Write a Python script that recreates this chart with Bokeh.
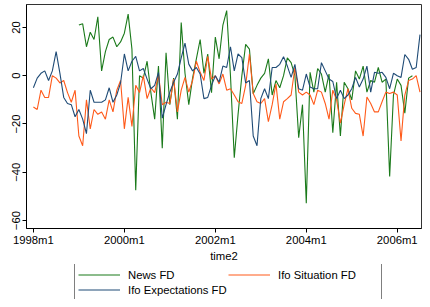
import numpy as np
from bokeh.plotting import figure
from bokeh.layouts import column
from bokeh.models import ColumnDataSource, Legend, LegendItem, FixedTicker, Range1d
from bokeh.embed import file_html
from bokeh.resources import INLINE

nan = np.nan

# monthly index 1998m1 .. 2006m7
months = [f"{1998 + k // 12}m{k % 12 + 1}" for k in range(103)]

news_fd = [nan] * 12 + [
    21, 21.5, 12, 18, 15, 24.4, 2, 10, 15, 16, 12, 14,
    17.6, 25.5, 11, -47.4, 0, -1, 6, -7, -18, 4, -30, 9.5,
    -12, -1, -18, 22, 1, -12, -1, 7, 15, 1, 9, -7,
    16, 7, 21, 27, 0, -34, -16, 0, 13, 11, -7.5, -4,
    -1, 1, 7, -8, -2, -5, 0, 7.4, 5.4, 0, -25.7, -12,
    -52.8, 1.4, -6.8, 3, 0.7, -6.8, 0.7, -23.6, -2.7, -25, -2.7, -5.4,
    -10, 2, -1.4, 4, -6.8, -2, -2.7, 3.4, -2.7, -1.4, -41.7, -8,
    -1.4, -4, -15.5, -1, 0,
] + [nan] * 2

ifo_situation_fd = [
    -13, -14, -6, -9, -9, 0, -1, -3, -2, -7, -11, -6,
    -25, -29, -10, -22, -14, -16, -15, -18, -10, -15, -6, -2,
    -22, -9, -21, -4, -7, 0, -9.5, -5, -7, 0.5, -12, -11,
    -11.5, -1.4, -15, -6, -0.7, -6.8, -2, 6, 1.4, -2, 8, -1.4,
    0, -3.4, 0.7, -6, -5.4, -8, -10.8, -11.5, -4, 9, -7.4, -10.8,
    -11.5, -9.5, -19, -12, -3.4, -18, -10.8, -9.5, -8, 3.4, -6.8, -8,
    -6.8, -8, -12, -6, -6.8, -11.5, -18, -6, -10, -19.6, -12, -5.4,
    -13.5, -15.6, -16, -25, -8.8, -11.5, -15, -15, -10.8, -6.8, -7.4, -6.8,
    -8, -27, -8, -2, -1.4, 0, -6.8,
]

ifo_expectations_fd = [
    -5, -1, 1, 2, -2, 2, 10, 1, -9, -11.5, -12, -17,
    -14, -18, -24, -6, -11, -11, -11, -10, -5, -11, -8, -3,
    9, 2, 6, 8, 2, 3, -1.4, -5.4, -4, 1.4, -17.6, -12,
    -6.8, -2.7, 0.7, 7.4, 13.5, 4.8, 2, 3.4, 0.7, -9.5, -9, -4,
    0, -2.7, 4, 3.4, 12, 2, 9, 7.5, -3, -2, -25, -29,
    -9.5, -5.4, -9.5, 3.4, 3.4, 4.7, 7.9, 4, -0.7, 4.7, -5.4, -6,
    0.7, -4.7, -5.4, -5.4, 5.4, 2, -1.4, -2.4, -9.5, -6, -9.5, -8,
    -5.4, -0.7, -4.7, -1.4, 4, -6.8, 1.4, 1, 1.4, -0.7, -5.4, 1,
    0, -0.7, 8.8, 6.8, 2.7, 3.4, 17,
]

tick_labels = ["1998m1", "2000m1", "2002m1", "2004m1", "2006m1"]
y_ticks = [-60, -40, -20, 0, 20]

t = list(range(len(months)))
src = ColumnDataSource(dict(t=t, news=news_fd, sit=ifo_situation_fd, exp=ifo_expectations_fd))

FONT = "Liberation Sans"
FS = "11.3px"
C_NEWS, C_SIT, C_EXP = "#1b7a1b", "#ff5a1a", "#1f4b76"

# ---- main chart ----
p = figure(width=422, height=264, output_backend="svg", toolbar_location=None,
           x_range=Range1d(-1.82, 102.4), y_range=Range1d(-63.3, 29.5),
           min_border_left=26, min_border_right=1, min_border_top=4,
           min_border_bottom=0, background_fill_color="white",
           border_fill_color="white")
p.outline_line_color = "#333333"
p.grid.visible = False

p.line("t", "news", source=src, line_color=C_NEWS, line_width=1.1)
p.line("t", "sit", source=src, line_color=C_SIT, line_width=1.1)
p.line("t", "exp", source=src, line_color=C_EXP, line_width=1.1)

tick_pos = [months.index(l) for l in tick_labels]
p.xaxis.ticker = FixedTicker(ticks=tick_pos)
p.xaxis.major_label_overrides = {pos: lab for pos, lab in zip(tick_pos, tick_labels)}
p.xaxis.axis_label = "time2"
p.yaxis.ticker = FixedTicker(ticks=y_ticks)
p.yaxis.major_label_orientation = "vertical"

for ax in (p.xaxis, p.yaxis):
    ax.axis_line_color = "black"
    ax.major_tick_line_color = "black"
    ax.major_tick_out = 4
    ax.major_tick_in = 0
    ax.minor_tick_line_color = None
    ax.major_label_text_font = FONT
    ax.major_label_text_font_size = FS
    ax.major_label_text_color = "black"
    ax.axis_label_text_font = FONT
    ax.axis_label_text_font_size = FS
    ax.axis_label_text_font_style = "normal"
    ax.axis_label_text_color = "black"
p.xaxis.major_label_standoff = 1
p.xaxis.axis_label_standoff = 1
p.yaxis.major_label_standoff = 2

# ---- legend strip (same series, hidden lines feed the legend glyphs) ----
lg = figure(width=422, height=35, output_backend="svg", toolbar_location=None,
            x_range=Range1d(0, 1), y_range=Range1d(0, 1),
            x_axis_type=None, y_axis_type=None, min_border=0,
            background_fill_color="white", border_fill_color="white")
lg.outline_line_color = None
lg.grid.visible = False
h_news = lg.line("t", "news", source=src, line_color=C_NEWS, line_width=1.1, visible=False)
h_sit = lg.line("t", "sit", source=src, line_color=C_SIT, line_width=1.1, visible=False)
h_exp = lg.line("t", "exp", source=src, line_color=C_EXP, line_width=1.1, visible=False)

# column-major fill: first column News FD / Ifo Expectations FD, second Ifo Situation FD
legend = Legend(items=[LegendItem(label="News FD", renderers=[h_news]),
                       LegendItem(label="Ifo Expectations FD", renderers=[h_exp]),
                       LegendItem(label="Ifo Situation FD", renderers=[h_sit])],
                orientation="vertical", ncols=2,
                location=(48, -2), glyph_width=42, glyph_height=15, label_height=15,
                label_width=100, label_standoff=8, spacing=0, padding=3, margin=0,
                label_text_font=FONT, label_text_font_size=FS, label_text_color="black",
                border_line_color="black", border_line_width=1,
                background_fill_color="white", background_fill_alpha=1.0,
                inactive_fill_alpha=0.0)
lg.add_layout(legend)

layout = column(p, lg, spacing=0)
open("out.html", "w").write(file_html(layout, INLINE))
